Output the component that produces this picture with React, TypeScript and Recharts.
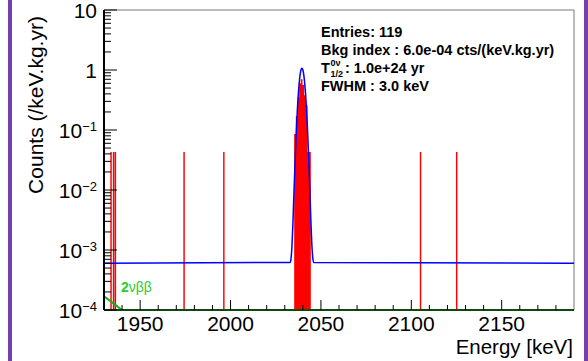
import React from 'react';
import { ComposedChart, Line, Area, XAxis, YAxis, ReferenceLine } from 'recharts';

const FONT = '"Liberation Sans", Arial, Helvetica, sans-serif';
const FLOOR = 1e-4;

// fit curve (flat bkg + peak at Qbb)
const fitEnergy = [
  1930, 2033, 2033.5, 2034, 2034.5, 2035, 2035.5, 2036, 2036.5, 2037, 2037.5, 2038, 2038.5, 2039,
  2039.5, 2040, 2040.5, 2041, 2041.5, 2042, 2042.5, 2043, 2043.5, 2044, 2044.5, 2045, 2045.5, 2046, 2190,
];
const fitValue = [
  6e-4, 6.2e-4, 7.3e-4, 1.2e-3, 2.7e-3, 7.7e-3, 0.02, 0.051, 0.115, 0.227, 0.4, 0.61, 0.835, 1.01,
  1.07, 1.01, 0.835, 0.61, 0.4, 0.227, 0.115, 0.051, 0.02, 7.7e-3, 2.7e-3, 1.2e-3, 7.3e-4, 6.2e-4, 6e-4,
];

// 2nbb tail, bottom left
const bbEnergy = [1930, 1935, 1940];
const bbValue = [1.7e-4, 1.3e-4, 1.0e-4];

// single events away from the peak (bin start in keV)
const eventEnergy = [1933.5, 1934.9, 1935.9, 1973.9, 1995.9, 2104.7, 2124.7];
const eventValue = [0.043, 0.043, 0.043, 0.043, 0.043, 0.043, 0.043];
const eventWidth = 0.8;

// peak bins
const peakStart = [2035.2, 2036.12, 2037.04, 2037.96, 2038.88, 2039.8, 2040.72, 2041.64, 2042.56, 2043.48];
const peakValue = [0.086, 0.17, 0.35, 0.6, 0.7, 0.56, 0.38, 0.26, 0.043, 0.043];
const peakWidth = 0.92;

// axis ticks
const xMajor = [1950, 2000, 2050, 2100, 2150];
const xTicks = Array.from({ length: 25 }, (_, i) => 1940 + 10 * i);
const yMajor = [1e-4, 1e-3, 1e-2, 1e-1, 1, 10];
const yTicks = yMajor.flatMap((d) => (d < 10 ? [d, 2, 3, 4, 5, 6, 7, 8, 9].map((m, i) => (i === 0 ? d : m * d)) : [d]));

const fitData = fitEnergy.map((e, i) => ({ e, fit: fitValue[i] }));
const bbData = bbEnergy.map((e, i) => ({ e, bb: bbValue[i] }));
const bins = [
  ...eventEnergy.map((e, i) => ({ lo: e, hi: e + eventWidth, v: eventValue[i] })),
  ...peakStart.map((e, i) => ({ lo: e, hi: e + peakWidth, v: peakValue[i] })),
].sort((a, b) => a.lo - b.lo);
const histData = bins.flatMap((b) => [
  { e: b.lo, h: b.v },
  { e: b.hi, h: FLOOR },
]);

const XTick = ({ x, y, payload }: any) => {
  const major = xMajor.includes(payload.value);
  return (
    <g>
      <line x1={x} x2={x} y1={y} y2={y - (major ? 10 : 5)} stroke="#000" />
      {major && (
        <text x={x} y={y + 21} textAnchor="middle" fontSize={21} fontFamily={FONT} fill="#000">
          {payload.value}
        </text>
      )}
    </g>
  );
};

const YTick = ({ x, y, payload }: any) => {
  const lg = Math.log10(payload.value);
  const p = Math.round(lg);
  const major = Math.abs(lg - p) < 1e-6;
  return (
    <g>
      <line x1={x} x2={x + (major ? 13 : 7)} y1={y} y2={y} stroke="#000" />
      {major && (
        <text x={x - 7} y={y + 8} textAnchor="end" fontSize={21} fontFamily={FONT} fill="#000">
          {p >= 0 ? (
            String(Math.pow(10, p))
          ) : (
            <>
              10
              <tspan dy={-7} fontSize={13}>
                {'\u2212' + -p}
              </tspan>
            </>
          )}
        </text>
      )}
    </g>
  );
};

export default function App() {
  return (
    <div style={{ position: 'absolute', left: 0, top: 0, width: 588, height: 361, background: '#fff' }}>
      <div style={{ position: 'absolute', left: 8, top: 0, width: 4, height: 361, background: '#7740a8' }} />
      <div style={{ position: 'absolute', left: 584, top: 0, width: 4, height: 361, background: '#7740a8' }} />
      <ComposedChart width={588} height={361} margin={{ top: 10, right: 14, left: 0, bottom: 0 }}>
        <XAxis
          dataKey="e"
          type="number"
          domain={[1930, 2190]}
          allowDataOverflow
          ticks={xTicks}
          interval={0}
          tick={(p: any) => <XTick {...p} />}
          tickLine={false}
          tickSize={0}
          tickMargin={0}
          height={51}
          axisLine={{ stroke: '#0d4a0d', strokeWidth: 2 }}
        />
        <YAxis
          type="number"
          scale="log"
          domain={[1e-4, 10]}
          allowDataOverflow
          ticks={yTicks}
          interval={0}
          tick={(p: any) => <YTick {...p} />}
          tickLine={false}
          tickSize={0}
          tickMargin={0}
          width={104}
          axisLine={{ stroke: '#000', strokeWidth: 2 }}
        />
        <ReferenceLine y={10} stroke="#777" />
        <ReferenceLine x={2190} stroke="#777" />
        <Area
          data={histData}
          dataKey="h"
          type="stepAfter"
          baseValue={FLOOR}
          stroke="none"
          fill="#ff0000"
          fillOpacity={1}
          isAnimationActive={false}
        />
        <Line
          data={fitData}
          dataKey="fit"
          type="monotone"
          stroke="#0000ff"
          strokeWidth={1.5}
          dot={false}
          activeDot={false}
          isAnimationActive={false}
        />
        <Line
          data={bbData}
          dataKey="bb"
          type="linear"
          stroke="#1faa1f"
          strokeWidth={2}
          dot={false}
          activeDot={false}
          isAnimationActive={false}
        />
      </ComposedChart>
      <svg
        width={588}
        height={361}
        style={{ position: 'absolute', left: 0, top: 0, pointerEvents: 'none' }}
        fontFamily={FONT}
      >
        <text transform="rotate(-90)" x={-105} y={43} textAnchor="middle" fontSize={21} fill="#000">
          Counts (/keV.kg.yr)
        </text>
        <text x={573} y={354} textAnchor="end" fontSize={20.5} fill="#000">
          Energy [keV]
        </text>
        <text x={121} y={292} fontSize={14} fill="#2ccc2c">
          <tspan fontWeight="bold">2</tspan>νββ
        </text>
        <g fontWeight="bold" fontSize={14.5} fill="#000">
          <text x={321} y={37}>Entries: 119</text>
          <text x={321} y={55}>Bkg index : 6.0e-04 cts/(keV.kg.yr)</text>
          <text x={321} y={73}>T</text>
          <text x={330.5} y={66} fontSize={9}>0ν</text>
          <text x={330.5} y={77} fontSize={9}>1/2</text>
          <text x={345} y={73}>: 1.0e+24 yr</text>
          <text x={321} y={91}>FWHM : 3.0 keV</text>
        </g>
      </svg>
    </div>
  );
}
